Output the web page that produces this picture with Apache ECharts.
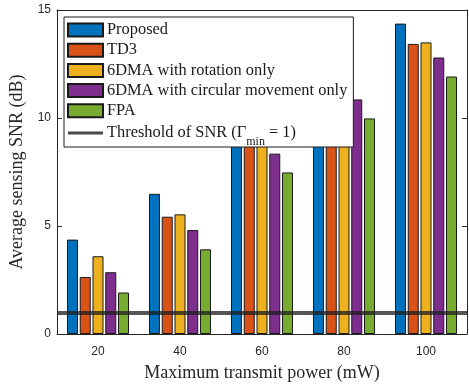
<!DOCTYPE html>
<html>
<head>
<meta charset="utf-8">
<script src="https://cdn.jsdelivr.net/npm/echarts@6/dist/echarts.min.js"></script>
<style>
  html, body { margin: 0; padding: 0; background: #fff; }
  #chart { width: 469px; height: 387px; }
</style>
</head>
<body>
<div id="chart"></div>
<script>
// Maximum transmit power levels (mW)
const categories = ['20', '40', '60', '80', '100'];

// Average sensing SNR (dB) for each scheme
const proposed     = [4.37, 6.49, 10.4, 12.3, 14.37];
const td3          = [2.64, 5.43, 9.6, 11.4, 13.43];
const rotationOnly = [3.60, 5.54, 9.7, 11.5, 13.50];
const circularOnly = [2.86, 4.81, 8.35, 10.86, 12.80];
const fpa          = [1.92, 3.92, 7.48, 9.98, 11.92];

// Minimum SNR requirement (dB)
const snrThreshold = 1;

const yTicks = { min: 0, max: 15, interval: 5 };

const seriesDefs = [
  { name: 'Proposed', data: proposed, color: '#0072BD' },
  { name: 'TD3', data: td3, color: '#D95319' },
  { name: '6DMA with rotation only', data: rotationOnly, color: '#EDB120' },
  { name: '6DMA with circular movement only', data: circularOnly, color: '#7E2F8E' },
  { name: 'FPA', data: fpa, color: '#77AC30' }
];
const thresholdName = 'Threshold of SNR';

const axisColor = '#262626';
const serif = '"Liberation Serif", "DejaVu Serif", serif';
const sans = '"Liberation Sans", Arial, sans-serif';

const chart = echarts.init(document.getElementById('chart'), null, { renderer: 'canvas' });

const barSeries = seriesDefs.map(s => ({
  name: s.name,
  type: 'bar',
  data: s.data,
  barWidth: 11,
  barGap: '16%',
  itemStyle: { color: s.color, borderColor: '#1a1a1a', borderWidth: 1 },
  emphasis: { disabled: true },
  z: 2
}));

const thresholdSeries = {
  name: thresholdName,
  type: 'line',
  data: [],
  symbol: 'none',
  lineStyle: { color: '#4a4a4a', width: 3 },
  itemStyle: { color: '#4a4a4a' },
  markLine: {
    silent: true,
    symbol: 'none',
    label: { show: false },
    lineStyle: { color: 'rgba(30,30,30,0.75)', width: 4, type: 'solid' },
    data: [{ yAxis: snrThreshold }]
  },
  z: 3
};

const legendData = seriesDefs.map(s => ({ name: s.name, icon: 'rect' }))
  .concat([{ name: thresholdName, icon: 'path://M0,0H35V3.2H0Z' }]);

const option = {
  animation: false,
  backgroundColor: '#fff',
  grid: { left: 55, right: 2, top: 10, bottom: 52, containLabel: false },
  legend: {
    orient: 'vertical',
    left: 64,
    top: 17,
    padding: [5, 6, -1, 3],
    itemWidth: 35,
    itemHeight: 13,
    itemGap: 4.2,
    symbolKeepAspect: true,
    backgroundColor: '#fff',
    borderColor: '#1a1a1a',
    borderWidth: 1,
    data: legendData,
    formatter: name => name === thresholdName
      ? name + ' (Γ{sub|min} = 1)'
      : name,
    textStyle: {
      fontFamily: serif,
      fontSize: 16.4,
      color: '#1a1a1a',
      lineHeight: 16,
      padding: [0, 0, 0, -1],
      rich: {
        sub: { fontFamily: serif, fontSize: 12, lineHeight: 4, padding: [13, 0, -5, 0], color: '#1a1a1a' }
      }
    },
    selectedMode: false
  },
  xAxis: [
    {
      type: 'category',
      data: categories,
      name: 'Maximum transmit power (mW)',
      nameLocation: 'middle',
      nameGap: 30,
      nameTextStyle: { fontFamily: serif, fontSize: 18, color: '#262626' },
      axisLine: { lineStyle: { color: axisColor, width: 1 } },
      axisTick: { inside: true, length: 5, alignWithLabel: true, lineStyle: { color: axisColor } },
      axisLabel: { fontFamily: sans, fontSize: 12, color: axisColor, margin: 12 },
      splitLine: { show: false }
    },
    {
      type: 'category',
      data: categories,
      position: 'top',
      axisLine: { onZero: false, lineStyle: { color: axisColor, width: 1 } },
      axisTick: { inside: true, length: 5, alignWithLabel: true, lineStyle: { color: axisColor } },
      axisLabel: { show: false }
    }
  ],
  yAxis: [
    {
      type: 'value',
      min: yTicks.min,
      max: yTicks.max,
      interval: yTicks.interval,
      name: 'Average sensing SNR (dB)',
      nameLocation: 'middle',
      nameGap: 31,
      nameTextStyle: { fontFamily: serif, fontSize: 18, color: '#262626' },
      axisLine: { show: true, lineStyle: { color: axisColor, width: 1 } },
      axisTick: { show: true, inside: true, length: 5, lineStyle: { color: axisColor } },
      axisLabel: { fontFamily: sans, fontSize: 12, color: axisColor, margin: 6 },
      splitLine: { show: false }
    },
    {
      type: 'value',
      min: yTicks.min,
      max: yTicks.max,
      interval: yTicks.interval,
      position: 'right',
      axisLine: { show: true, onZero: false, lineStyle: { color: axisColor, width: 1 } },
      axisTick: { show: true, inside: true, length: 5, lineStyle: { color: axisColor } },
      axisLabel: { show: false },
      splitLine: { show: false }
    }
  ],
  series: barSeries.concat([thresholdSeries])
};

chart.setOption(option);
</script>
</body>
</html>
